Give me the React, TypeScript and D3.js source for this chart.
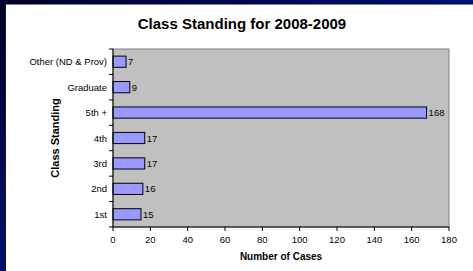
import React from "react";
import * as d3 from "d3";

const categories = ["Other (ND & Prov)", "Graduate", "5th +", "4th", "3rd", "2nd", "1st"];
const values = [7, 9, 168, 17, 17, 16, 15];
const xTicks = [0, 20, 40, 60, 80, 100, 120, 140, 160, 180];
const title = "Class Standing for 2008-2009";
const xTitle = "Number of Cases";
const yTitle = "Class Standing";

export default function App() {
  const W = 473, H = 271;
  const left = 113, right = 449, top = 49, bottom = 227;
  const x = d3.scaleLinear().domain([0, 180]).range([left, right]);
  const y = d3.scaleBand<string>().domain(categories).range([top, bottom]).paddingInner(0.56).paddingOuter(0.28);
  const bandStep = (bottom - top) / categories.length;
  const font = "Arial, 'Liberation Sans', sans-serif";
  return (
    <svg width={W} height={H} style={{ position: "absolute", left: 0, top: 0 }} fontFamily={font}>
      <defs>
        <linearGradient id="bg" x1="0" y1="0" x2="1" y2="1">
          <stop offset="0" stopColor="#000028" />
          <stop offset="0.5" stopColor="#001070" />
          <stop offset="1" stopColor="#0030c0" />
        </linearGradient>
      </defs>
      <rect x={0} y={0} width={W} height={H} fill="url(#bg)" />
      <rect x={5} y={4} width={W - 5} height={H - 4} fill="#1a1a2a" />
      <rect x={6} y={5} width={W - 6} height={H - 5} fill="#ffffff" />
      <line x1={6} x2={W} y1={4.5} y2={4.5} stroke="#808080" />
      <text x={242} y={29} textAnchor="middle" fontWeight="bold" fontSize={15}>{title}</text>
      <rect x={left} y={top} width={right - left} height={bottom - top} fill="#c0c0c0" stroke="#808080" />
      {categories.map((c, i) => (
        <g key={c}>
          <rect x={x(0)} y={y(c)!} width={x(values[i]) - x(0)} height={y.bandwidth()} fill="#9999ff" stroke="#000" strokeWidth={1} />
          <text x={x(values[i]) + 2} y={y(c)! + y.bandwidth() / 2 + 3.5} fontSize={9.5} fill="#000">{values[i]}</text>
          <text x={107} y={y(c)! + y.bandwidth() / 2 + 3.5} fontSize={9.5} textAnchor="end" fill="#000">{c}</text>
        </g>
      ))}
      {d3.range(categories.length + 1).map((i) => (
        <line key={i} x1={left - 4} x2={left} y1={top + i * bandStep} y2={top + i * bandStep} stroke="#000" />
      ))}
      <line x1={left} x2={left} y1={top} y2={bottom} stroke="#000" />
      <line x1={left} x2={right} y1={bottom} y2={bottom} stroke="#000" />
      {xTicks.map((t) => (
        <g key={t}>
          <line x1={x(t)} x2={x(t)} y1={bottom} y2={bottom + 4} stroke="#000" />
          <text x={x(t)} y={bottom + 16} textAnchor="middle" fontSize={9.5}>{t}</text>
        </g>
      ))}
      <text x={(left + right) / 2} y={260} textAnchor="middle" fontWeight="bold" fontSize={10}>{xTitle}</text>
      <text transform={`translate(59,${(top + bottom) / 2}) rotate(-90)`} textAnchor="middle" fontWeight="bold" fontSize={11}>{yTitle}</text>
    </svg>
  );
}
